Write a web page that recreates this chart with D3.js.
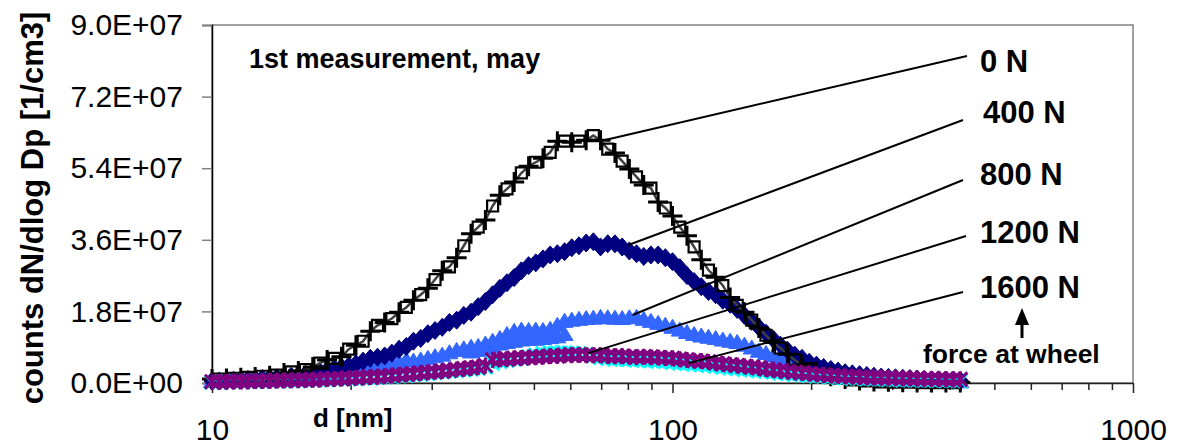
<!DOCTYPE html>
<html>
<head>
<meta charset="utf-8">
<script src="https://cdn.jsdelivr.net/npm/d3@7"></script>
<style>
body{margin:0;background:#fff;}
svg{font-family:"Liberation Sans",Arial,sans-serif;}
</style>
</head>
<body>
<svg id="chart"></svg>
<script>
// particle diameter channels [nm]
var diameters = [10.00,10.37,10.75,11.14,11.55,11.97,12.41,12.86,13.34,13.82,
14.33,14.86,15.40,15.96,16.55,17.15,17.78,18.43,19.11,19.81,
20.54,21.29,22.07,22.88,23.71,24.58,25.48,26.42,27.38,28.39,
29.43,30.50,31.62,32.78,33.98,35.22,36.52,37.85,39.24,40.68,
42.17,43.71,45.31,46.97,48.70,50.48,52.33,54.25,56.23,58.29,
60.43,62.64,64.94,67.32,69.78,72.34,74.99,77.74,80.58,83.54,
86.60,89.77,93.06,96.47,100.0,103.7,107.5,111.4,115.5,119.7,
124.1,128.6,133.4,138.2,143.3,148.6,154.0,159.6,165.5,171.5,
177.8,184.3,191.1,198.1,205.4,212.9,220.7,228.8,237.1,245.8,
254.8,264.2,273.8,283.9,294.3,305.0,316.2,327.8,339.8,352.2,
365.2,378.5,392.4,406.8,421.7];

// counts in units of 1E+07 1/cm3
var n0 = [0.10,0.10,0.11,0.12,0.13,0.14,0.15,0.17,0.18,0.20,
0.25,0.28,0.30,0.34,0.40,0.50,0.58,0.62,0.66,0.85,
0.95,1.05,1.30,1.45,1.52,1.62,1.78,1.90,2.08,2.22,
2.38,2.60,2.82,2.92,3.15,3.45,3.75,3.92,4.10,4.45,
4.72,4.88,5.05,5.28,5.45,5.55,5.65,5.80,6.08,6.08,
6.05,6.08,6.10,6.22,6.10,5.88,5.78,5.58,5.38,5.18,
4.98,4.90,4.55,4.40,4.20,3.92,3.70,3.42,3.10,2.84,
2.66,2.45,2.15,1.95,1.78,1.58,1.38,1.20,1.02,0.88,
0.72,0.58,0.46,0.36,0.28,0.22,0.17,0.13,0.10,0.08,
0.06,0.05,0.04,0.03,0.03,0.02,0.02,0.02,0.01,0.01,
0.01,0.01,0.01,0.01,0.01];

var n400 = [0.05,0.05,0.06,0.07,0.08,0.09,0.10,0.11,0.12,0.13,
0.15,0.17,0.19,0.22,0.25,0.28,0.32,0.36,0.40,0.43,
0.48,0.55,0.62,0.65,0.68,0.75,0.85,0.92,1.05,1.12,
1.24,1.32,1.40,1.52,1.58,1.70,1.78,1.92,2.05,2.22,
2.38,2.52,2.65,2.82,2.95,3.02,3.12,3.22,3.25,3.30,
3.40,3.45,3.52,3.55,3.42,3.50,3.50,3.42,3.32,3.25,
3.18,3.22,3.22,3.15,3.05,2.90,2.70,2.55,2.42,2.30,
2.22,2.08,1.98,1.85,1.70,1.55,1.40,1.25,1.10,0.95,
0.82,0.70,0.62,0.52,0.45,0.39,0.34,0.30,0.26,0.23,
0.21,0.19,0.17,0.15,0.14,0.13,0.12,0.11,0.10,0.09,
0.08,0.08,0.07,0.07,0.06];

var n800 = [0.04,0.04,0.05,0.05,0.06,0.06,0.07,0.07,0.08,0.09,
0.10,0.11,0.12,0.14,0.16,0.18,0.20,0.22,0.25,0.28,
0.30,0.33,0.36,0.40,0.44,0.48,0.52,0.58,0.55,0.58,
0.62,0.66,0.70,0.76,0.82,0.86,0.90,0.92,0.98,1.05,
1.12,1.22,1.30,1.33,1.32,1.33,1.32,1.35,1.45,1.55,
1.58,1.60,1.62,1.63,1.65,1.64,1.63,1.62,1.64,1.65,
1.60,1.55,1.50,1.45,1.40,1.33,1.27,1.22,1.18,1.15,
1.12,1.08,1.05,1.02,0.95,0.88,0.80,0.74,0.68,0.62,
0.57,0.52,0.47,0.42,0.36,0.31,0.26,0.22,0.18,0.15,
0.12,0.10,0.09,0.08,0.07,0.06,0.05,0.05,0.04,0.04,
0.04,0.03,0.03,0.03,0.03];

// second (lower) track of the 800 N triangles
var n800b = [null,null,null,null,null,null,null,null,null,null,
null,null,null,null,null,null,null,null,null,null,
null,null,null,null,null,null,null,null,null,null,
null,null,null,null,null,null,0.78,0.82,0.86,0.92,
0.98,1.02,1.05,1.08,1.10,1.10,1.12,1.14,1.16,1.22,
null,null,null,null,null,null,null,null,null,null,
null,null,null,null,null,null,null,null,null,null,
null,null,null,null,null,null,null,null,null,null,
null,null,null,null,null,null,null,null,null,null,
null,null,null,null,null,null,null,null,null,null,
null,null,null,null,null];

var n1200 = [0.02,0.02,0.03,0.03,0.03,0.04,0.04,0.04,0.05,0.05,
0.05,0.06,0.06,0.07,0.07,0.08,0.08,0.09,0.10,0.10,
0.11,0.12,0.13,0.14,0.15,0.16,0.18,0.19,0.21,0.22,
0.24,0.26,0.28,0.30,0.31,0.33,0.35,0.37,0.40,0.50,
0.54,0.57,0.60,0.62,0.66,0.70,0.74,0.76,0.76,0.76,
0.75,0.74,0.72,0.68,0.64,0.62,0.60,0.60,0.59,0.58,
0.57,0.56,0.55,0.54,0.52,0.50,0.49,0.47,0.46,0.44,
0.42,0.40,0.38,0.36,0.34,0.33,0.31,0.29,0.27,0.25,
0.24,0.22,0.21,0.19,0.18,0.17,0.15,0.14,0.13,0.12,
0.12,0.11,0.10,0.10,0.09,0.09,0.08,0.08,0.08,0.07,
0.07,0.07,0.06,0.06,0.06];

var n1600 = [0.03,0.03,0.03,0.04,0.04,0.04,0.05,0.05,0.05,0.06,
0.06,0.07,0.07,0.08,0.08,0.09,0.10,0.10,0.11,0.12,
0.13,0.14,0.15,0.16,0.17,0.19,0.20,0.22,0.23,0.25,
0.27,0.28,0.30,0.32,0.34,0.36,0.38,0.40,0.44,0.58,
0.60,0.60,0.62,0.63,0.64,0.65,0.66,0.68,0.68,0.70,
0.70,0.71,0.70,0.70,0.70,0.68,0.67,0.68,0.66,0.65,
0.66,0.65,0.64,0.63,0.62,0.60,0.58,0.56,0.55,0.53,
0.50,0.48,0.46,0.44,0.42,0.40,0.38,0.35,0.33,0.31,
0.29,0.27,0.25,0.24,0.22,0.20,0.19,0.18,0.17,0.16,
0.15,0.14,0.14,0.13,0.13,0.12,0.12,0.11,0.11,0.10,
0.10,0.10,0.09,0.09,0.09];

var unit = 1e7;
var yTicks = [0, 1.8e7, 3.6e7, 5.4e7, 7.2e7, 9.0e7];
var yTickLabels = ["0.0E+00","1.8E+07","3.6E+07","5.4E+07","7.2E+07","9.0E+07"];
var xMajor = [10, 100, 1000];
var xMinor = [20,30,40,50,60,70,80,90,200,300,400,500,600,700,800,900];

var forceLabels = ["0 N","400 N","800 N","1200 N","1600 N"];
// where each leader line touches its curve (diameter, count)
var leaderAnchors = [[71.4, 6.11e7],[80.2, 3.47e7],[81.9, 1.71e7],[65.7, 0.75e7],[108.3, 0.50e7]];

var screen = {width:1179, height:446};
var plot = {left:212, right:1133, top:25, bottom:383};

var svg = d3.select("#chart")
    .attr("width", screen.width)
    .attr("height", screen.height);

var xScale = d3.scaleLog().domain([10, 1000]).range([plot.left, plot.right]);
var yScale = d3.scaleLinear().domain([0, 9e7]).range([plot.bottom, plot.top]);

// plot frame
svg.append("rect")
    .attr("x", plot.left).attr("y", plot.top)
    .attr("width", plot.right - plot.left).attr("height", plot.bottom - plot.top)
    .attr("fill", "none").attr("stroke", "#808080").attr("stroke-width", 1.5);

// axes
var yAxis = d3.axisLeft(yScale)
    .tickValues(yTicks)
    .tickFormat(function(d, i){ return yTickLabels[i]; })
    .tickSize(10).tickPadding(19);
var gy = svg.append("g")
    .attr("transform", "translate(" + plot.left + ",0)")
    .call(yAxis);
gy.select(".domain").attr("stroke", "#000").attr("stroke-width", 1.5);
gy.selectAll(".tick line").attr("stroke", "#808080").attr("stroke-width", 1.5);
gy.selectAll(".tick text").attr("font-size", 30).attr("fill", "#000")
    .attr("font-family", "Liberation Sans, Arial, sans-serif");

var xMinorAxis = d3.axisBottom(xScale).tickValues(xMinor).tickFormat("").tickSize(7);
var gxm = svg.append("g")
    .attr("transform", "translate(0," + plot.bottom + ")")
    .call(xMinorAxis);
gxm.select(".domain").remove();
gxm.selectAll(".tick line").attr("stroke", "#222").attr("stroke-width", 1.5);

var xAxis = d3.axisBottom(xScale).tickValues(xMajor)
    .tickFormat(d3.format("d")).tickSize(10).tickPadding(26).tickSizeOuter(0);
var gx = svg.append("g")
    .attr("transform", "translate(0," + plot.bottom + ")")
    .call(xAxis);
gx.select(".domain").attr("stroke", "#222").attr("stroke-width", 1.5);
gx.selectAll(".tick line").attr("stroke", "#222").attr("stroke-width", 1.5);
gx.selectAll(".tick text").attr("font-size", 30).attr("fill", "#000")
    .attr("font-family", "Liberation Sans, Arial, sans-serif");

// series
var points = function(values)
{
    return diameters.map(function(d, i){ return {d:d, v:values[i], i:i}; })
        .filter(function(p){ return p.v != null; });
}

var drawMarkers = function(values, path, fill, stroke, width, every, offset)
{
    var g = svg.append("g");
    g.selectAll("path")
        .data(points(values).filter(function(p){ return (p.i + (offset || 0)) % (every || 1) == 0; }))
        .enter()
        .append("path")
        .attr("d", path)
        .attr("transform", function(p){ return "translate(" + xScale(p.d) + "," + yScale(p.v * unit) + ")"; })
        .attr("fill", fill)
        .attr("stroke", stroke)
        .attr("stroke-width", width)
        .attr("stroke-linejoin", "miter");
}

var triangle = "M0,-8L8.5,6L-8.5,6Z";
var diamond = "M0,-9L8,0L0,9L-8,0Z";
var plus = "M-10,0H10M0,-10V10";
var square = "M-5.5,-5.5H5.5V5.5H-5.5Z";
var cross = "M-7,-7L7,7M-7,7L7,-7";
var star = "M-7,-7L7,7M-7,7L7,-7M0,-8V8";

drawMarkers(n800b, triangle, "#3366ff", "#3366ff", 1);
drawMarkers(n800, triangle, "#3366ff", "#3366ff", 1);
drawMarkers(n400, diamond, "#000080", "#000080", 1);

var line = d3.line()
    .x(function(p){ return xScale(p.d); })
    .y(function(p){ return yScale(p.v * unit); });
svg.append("path")
    .datum(points(n0))
    .attr("d", line)
    .attr("fill", "none")
    .attr("stroke", "#404040")
    .attr("stroke-width", 2.5);
drawMarkers(n0, plus, "none", "#000", 3, 2, 0);
drawMarkers(n0, square, "none", "#000", 2.2, 2, 1);

drawMarkers(n1200, cross, "none", "#00ffff", 3);
drawMarkers(n1600, star, "none", "#800080", 3);

// leader lines and force labels
var labelLayout = [
    {x1:967, y1:56, tx:980, ty:72},
    {x1:963, y1:120, tx:983, ty:123},
    {x1:963, y1:180, tx:980, ty:185},
    {x1:966, y1:236, tx:980, ty:243},
    {x1:963, y1:292, tx:980, ty:298}
];
var notes = svg.append("g");
forceLabels.forEach(function(label, i)
{
    var a = leaderAnchors[i];
    var l = labelLayout[i];
    notes.append("line")
        .attr("x1", xScale(a[0])).attr("y1", yScale(a[1]))
        .attr("x2", l.x1).attr("y2", l.y1)
        .attr("stroke", "#000").attr("stroke-width", 2);
    notes.append("text")
        .text(label)
        .attr("x", l.tx).attr("y", l.ty)
        .attr("font-size", 31).attr("font-weight", "bold");
});

// arrow for force at wheel
notes.append("path")
    .attr("d", "M1022,308L1029,325L1015,325Z")
    .attr("fill", "#000");
notes.append("line")
    .attr("x1", 1022).attr("y1", 324).attr("x2", 1022).attr("y2", 338)
    .attr("stroke", "#000").attr("stroke-width", 3);
notes.append("text")
    .text("force at wheel")
    .attr("x", 923).attr("y", 363)
    .attr("font-size", 26.5).attr("font-weight", "bold");

// titles
svg.append("text")
    .text("1st measurement, may")
    .attr("x", 249).attr("y", 68)
    .attr("font-size", 27).attr("font-weight", "bold");

svg.append("text")
    .text("d [nm]")
    .attr("x", 313).attr("y", 427)
    .attr("font-size", 26).attr("font-weight", "bold");

svg.append("text")
    .text("counts dN/dlog Dp [1/cm3]")
    .attr("transform", "translate(43,208) rotate(-90)")
    .attr("text-anchor", "middle")
    .attr("font-size", 31).attr("font-weight", "bold");
</script>
</body>
</html>
